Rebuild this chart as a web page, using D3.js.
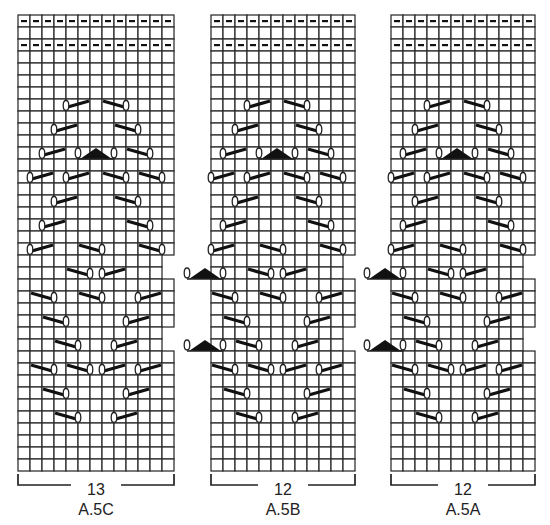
<!DOCTYPE html>
<html>
<head>
<meta charset="utf-8">
<script src="https://cdn.jsdelivr.net/npm/d3@7"></script>
<style>
  body { margin: 0; background: #fff; }
  text { font-family: 'Liberation Sans', Arial, sans-serif; font-size: 16px; fill: #222; }
</style>
</head>
<body>
<svg id="chart" width="550" height="525"></svg>
<script>
const cell = 12
const nRows = 38
const purlRows = [0, 2]
// rows where the last column is dropped
const shortRows = [20, 21, 26, 27]

// cable symbols: [row, col, type]  L = oval left, R = oval right, T = double decrease
const symbolsC = [
  [7, 4, 'L'], [7, 7, 'R'],
  [9, 3, 'L'], [9, 8, 'R'],
  [11, 2, 'L'], [11, 5, 'T'], [11, 9, 'R'],
  [13, 1, 'L'], [13, 4, 'L'], [13, 7, 'R'], [13, 10, 'R'],
  [15, 3, 'L'], [15, 8, 'R'],
  [17, 2, 'L'], [17, 9, 'R'],
  [19, 1, 'L'], [19, 5, 'R'], [19, 10, 'R'],
  [21, 4, 'R'], [21, 7, 'L'],
  [23, 1, 'R'], [23, 5, 'R'], [23, 10, 'L'],
  [25, 2, 'R'], [25, 9, 'L'],
  [27, 3, 'R'], [27, 8, 'L'],
  [29, 1, 'R'], [29, 4, 'R'], [29, 7, 'L'], [29, 10, 'L'],
  [31, 2, 'R'], [31, 9, 'L'],
  [33, 3, 'R'], [33, 8, 'L']
]
const symbolsB = [
  [7, 3, 'L'], [7, 6, 'R'],
  [9, 2, 'L'], [9, 7, 'R'],
  [11, 1, 'L'], [11, 4, 'T'], [11, 8, 'R'],
  [13, 0, 'L'], [13, 3, 'L'], [13, 6, 'R'], [13, 9, 'R'],
  [15, 2, 'L'], [15, 7, 'R'],
  [17, 1, 'L'], [17, 8, 'R'],
  [19, 0, 'L'], [19, 4, 'R'], [19, 9, 'R'],
  [21, -2, 'T'], [21, 3, 'R'], [21, 6, 'L'],
  [23, 0, 'R'], [23, 4, 'R'], [23, 9, 'L'],
  [25, 1, 'R'], [25, 8, 'L'],
  [27, -2, 'T'], [27, 2, 'R'], [27, 7, 'L'],
  [29, 0, 'R'], [29, 3, 'R'], [29, 6, 'L'], [29, 9, 'L'],
  [31, 1, 'R'], [31, 8, 'L'],
  [33, 2, 'R'], [33, 7, 'L']
]

const charts = [
  {name: 'A.5C', cols: 13, x0: 18, symbols: symbolsC},
  {name: 'A.5B', cols: 12, x0: 211, symbols: symbolsB},
  {name: 'A.5A', cols: 12, x0: 391, symbols: symbolsB}
]

const svg = d3.select('#chart')
const y = d3.scaleLinear().domain([0, nRows]).range([15, 15 + nRows*cell])

charts.forEach(ch => {
  const x = d3.scaleLinear().domain([0, ch.cols]).range([ch.x0, ch.x0 + ch.cols*cell])
  const g = svg.append('g')

  const cells = []
  d3.range(nRows).forEach(r => {
    const n = shortRows.includes(r) ? ch.cols - 1 : ch.cols
    d3.range(n).forEach(c => cells.push({r, c}))
  })
  g.selectAll('rect.cell').data(cells).enter().append('rect')
    .attr('x', d => x(d.c)).attr('y', d => y(d.r))
    .attr('width', cell).attr('height', cell)
    .attr('fill', '#fff').attr('stroke', '#2a2a2a').attr('stroke-width', 1.25)

  const dashes = cells.filter(d => purlRows.includes(d.r))
  g.selectAll('rect.purl').data(dashes).enter().append('rect')
    .attr('x', d => x(d.c + 0.5) - 3).attr('y', d => y(d.r + 0.5) - 1)
    .attr('width', 6).attr('height', 2.2).attr('fill', '#111')

  const oval = (px, py) => g.append('ellipse').attr('cx', px).attr('cy', py)
    .attr('rx', 2.8).attr('ry', 5).attr('fill', '#fff').attr('stroke', '#222').attr('stroke-width', 1.3)

  ch.symbols.forEach(([r, c, t]) => {
    const yc = y(r + 0.5)
    if (t === 'T') {
      g.append('path')
        .attr('d', `M${x(c)+2},${y(r+1)} L${x(c+1.5)},${y(r)+1} L${x(c+3)-2},${y(r+1)} Z`)
        .attr('fill', '#111')
      g.append('line').attr('x1', x(c)).attr('x2', x(c+3)).attr('y1', y(r+1)).attr('y2', y(r+1))
        .attr('stroke', '#222').attr('stroke-width', 1.3)
      oval(x(c), yc)
      oval(x(c + 3), yc)
    } else if (t === 'L') {
      g.append('line').attr('x1', x(c)).attr('y1', yc + 2.5).attr('x2', x(c + 2) - 1).attr('y2', yc - 4)
        .attr('stroke', '#111').attr('stroke-width', 3.3)
      oval(x(c), yc + 0.5)
    } else {
      g.append('line').attr('x1', x(c) + 1).attr('y1', yc - 4).attr('x2', x(c + 2)).attr('y2', yc + 2.5)
        .attr('stroke', '#111').attr('stroke-width', 3.3)
      oval(x(c + 2), yc + 0.5)
    }
  })

  // bracket with stitch count
  const xl = x(0), xr = x(ch.cols), xm = (xl + xr) / 2, yb = 485
  g.append('path')
    .attr('d', `M${xl},474 V${yb} H${xm-25} M${xm+25},${yb} H${xr} V474`)
    .attr('fill', 'none').attr('stroke', '#222').attr('stroke-width', 1.7)
  g.append('text').attr('x', xm).attr('y', 495).attr('text-anchor', 'middle').text(ch.cols)
  g.append('text').attr('x', xm).attr('y', 515).attr('text-anchor', 'middle').text(ch.name)
})
</script>
</body>
</html>
